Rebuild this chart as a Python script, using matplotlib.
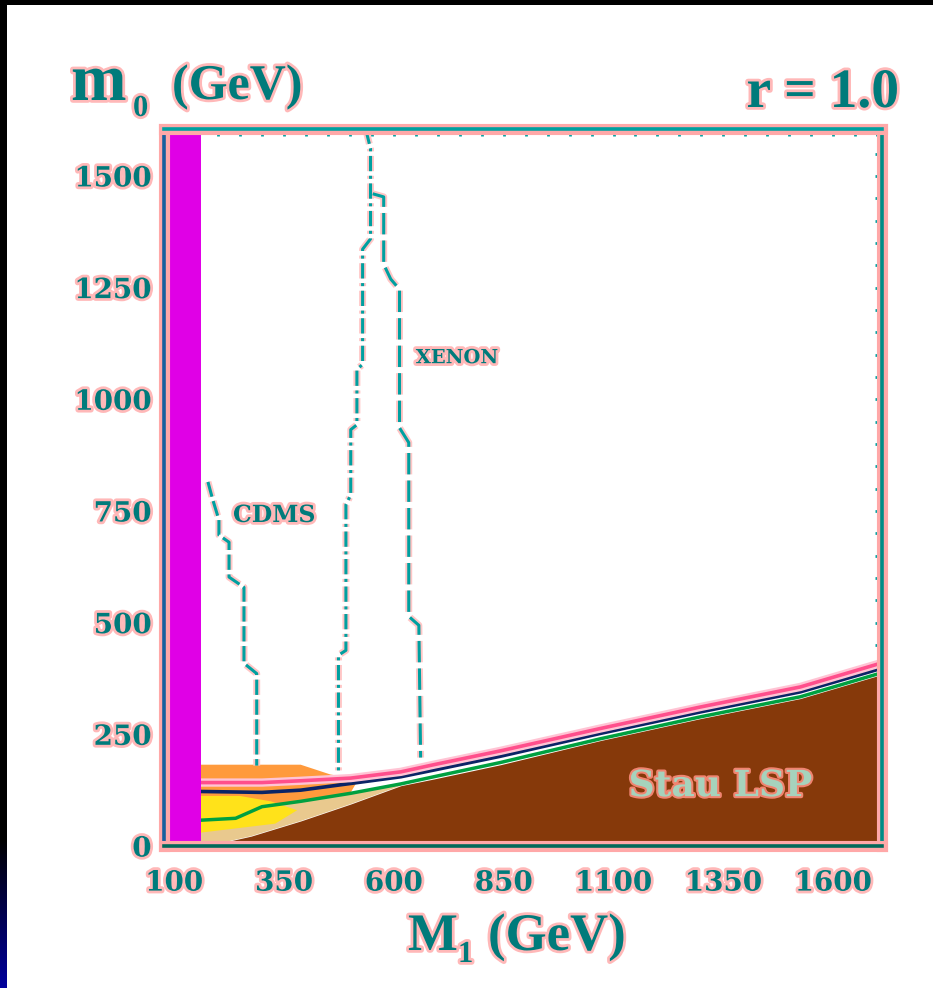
import matplotlib.pyplot as plt
import matplotlib.patheffects as pe
from matplotlib.patches import Rectangle
from matplotlib.ticker import MultipleLocator
import numpy as np

# axis ranges and tick labels
m1_range = (77, 1711)
m0_range = (0, 1605)
m1_ticks = [100, 350, 600, 850, 1100, 1350, 1600]
m0_ticks = [0, 250, 500, 750, 1000, 1250, 1500]

# chargino bound: M1 below this is excluded
lep_m1 = 161

# upper edge of the stau LSP region
stau_m1 = [175, 275, 388, 502, 616, 691, 843, 1070, 1297, 1525, 1711]
stau_m0 = [0, 22, 56, 94, 135, 150, 182, 236, 285, 330, 384]

# thin relic-density strips hugging the stau boundary
pink_m1 = [165, 300, 388, 502, 616, 691, 843, 1070, 1297, 1525, 1711]
pink_m0 = [142, 142, 146, 152, 166, 182, 213, 263, 311, 356, 410]
navy_m1 = [165, 300, 388, 502, 616, 691, 843, 1070, 1297, 1525, 1711]
navy_m0 = [122, 120, 125, 140, 155, 170, 201, 252, 300, 345, 398]
green_m1 = [165, 240, 300, 388, 502, 616, 691, 843, 1070, 1297, 1525, 1711]
green_m0 = [58, 62, 88, 100, 118, 139, 155, 187, 240, 289, 334, 388]

# coloured patches in the low-M1 corner
orange_m1 = [161, 388, 456, 520, 502, 161]
orange_m0 = [182, 182, 160, 150, 120, 58]
pale_m1 = [161, 240, 300, 388, 502, 616, 616, 502, 388, 275, 175, 161]
pale_m0 = [58, 62, 88, 100, 118, 139, 135, 94, 56, 22, 0, 0]
yellow_m1 = [161, 250, 320, 380, 330, 161]
yellow_m0 = [112, 112, 100, 80, 50, 30]

# direct detection contours
cdms_m1 = [177, 188, 202, 202, 225, 225, 259, 259, 288, 288]
cdms_m0 = [815, 775, 730, 696, 680, 602, 579, 409, 386, 180]
mid_m1 = [536, 547, 547, 529, 529, 516, 516, 502, 502, 491, 491, 474, 474]
mid_m0 = [1605, 1561, 1359, 1336, 1078, 1067, 943, 932, 786, 764, 438, 427, 168]
xenon_m1 = [552, 577, 577, 593, 613, 613, 634, 634, 657, 661]
xenon_m0 = [1460, 1453, 1302, 1269, 1246, 936, 903, 514, 494, 198]

teal = '#00a0a0'
text_teal = '#007b7b'
halo = '#ffb8b8'

W, H = 933, 988
fig = plt.figure(figsize=(W / 100, H / 100), dpi=100)
fig.patch.set_facecolor('white')

ax = fig.add_axes([164 / W, (H - 846) / H, 718 / W, 717 / H])
ax.set_xlim(*m1_range)
ax.set_ylim(*m0_range)

# excluded strip and stau LSP area
ax.axvspan(m1_range[0], lep_m1, color='#e000e6', zorder=3, lw=0)
ax.fill(orange_m1, orange_m0, color='#ff9a3c', lw=0, zorder=1)
ax.fill(pale_m1, pale_m0, color='#e9c98e', lw=0, zorder=1.1)
ax.fill(yellow_m1, yellow_m0, color='#ffe21a', lw=0, zorder=1.2)
ax.fill_between(stau_m1, m0_range[0], stau_m0, color='#86390a', lw=0, zorder=2)

glow = [pe.Stroke(linewidth=6, foreground='#ffc4d4'), pe.Normal()]
ax.plot(green_m1, green_m0, color='#00a040', lw=2.5, zorder=2.5)
ax.plot(navy_m1, navy_m0, color='#0b2466', lw=2.6, zorder=2.6)
ax.plot(pink_m1, pink_m0, color='#ff4f8c', lw=2.6, zorder=2.7, path_effects=glow)

line_halo = [pe.Stroke(linewidth=5, foreground='#ffc6c6'), pe.Normal()]
ax.plot(cdms_m1, cdms_m0, color=teal, lw=2.2, ls=(0, (5, 1.5)), zorder=4,
        path_effects=line_halo)
ax.plot(mid_m1, mid_m0, color=teal, lw=2.2, ls=(0, (5, 1.5, 1, 1.5)), zorder=4,
        path_effects=line_halo)
ax.plot(xenon_m1, xenon_m0, color=teal, lw=2.2, ls=(0, (7, 2)), zorder=4,
        path_effects=line_halo)

text_halo = [pe.withStroke(linewidth=4, foreground=halo)]
ax.text(234, 741, 'CDMS', fontsize=17, fontweight='bold', family='DejaVu Serif',
        color=text_teal, va='center', ha='left', zorder=6, path_effects=text_halo)
ax.text(650, 1092, 'XENON', fontsize=14, fontweight='bold', family='DejaVu Serif',
        color=text_teal, va='center', ha='left', zorder=6, path_effects=text_halo)
ax.text(1343, 134, 'Stau LSP', fontsize=26, fontweight='bold', family='DejaVu Serif',
        color='#a6d2bc', va='center', ha='center', zorder=6,
        path_effects=[pe.withStroke(linewidth=3, foreground='#f08470')])

# frame and ticks
ax.set_xticks(m1_ticks)
ax.set_yticks(m0_ticks)
ax.xaxis.set_minor_locator(MultipleLocator(50))
ax.yaxis.set_minor_locator(MultipleLocator(50))
ax.tick_params(which='both', direction='in', top=True, right=True,
               bottom=False, left=False, color=teal, width=2, length=5)
ax.tick_params(axis='x', pad=17)
ax.tick_params(axis='y', pad=9)
for lab in ax.get_xticklabels() + ax.get_yticklabels():
    lab.set_fontfamily('DejaVu Serif')
    lab.set_fontweight('bold')
    lab.set_fontsize(20)
    lab.set_color(text_teal)
    lab.set_path_effects(text_halo)

spine_halo = [pe.Stroke(linewidth=8, foreground='#ffa8a8'), pe.Normal()]
for side, col in [('top', teal), ('right', '#008c86'), ('left', '#16609e'),
                  ('bottom', '#00695a')]:
    ax.spines[side].set_color(col)
    ax.spines[side].set_linewidth(2.6)
    ax.spines[side].set_zorder(5)
    ax.spines[side].set_path_effects(spine_halo)

# axis titles
big = dict(family='Liberation Serif', fontweight='bold', color=text_teal,
           path_effects=text_halo, va='baseline')
fig.text(71 / W, 1 - 100 / H, 'm', fontsize=48, **big)
fig.text(133 / W, 1 - 116 / H, '0', fontsize=22, **big)
fig.text(172 / W, 1 - 99 / H, '(GeV)', fontsize=36, **big)
fig.text(899 / W, 1 - 107 / H, 'r = 1.0', fontsize=40, ha='right', **big)
fig.text(408 / W, 1 - 950 / H, 'M', fontsize=38, **big)
fig.text(458 / W, 1 - 962 / H, '1', fontsize=22, **big)
fig.text(488 / W, 1 - 950 / H, '(GeV)', fontsize=38, **big)

# dark border on the top and left edges
fig.add_artist(Rectangle((0, 1 - 5 / H), 1, 5 / H, transform=fig.transFigure,
                         color='black', lw=0))
strip = fig.add_axes([0, 0, 7 / W, 1])
shade = np.clip((np.arange(H) - 840) / 148, 0, 1)
img = np.zeros((H, 1, 3))
img[:, 0, 2] = 0.62 * shade
strip.imshow(img, aspect='auto')
strip.axis('off')

fig.savefig('out.png', dpi=100)
